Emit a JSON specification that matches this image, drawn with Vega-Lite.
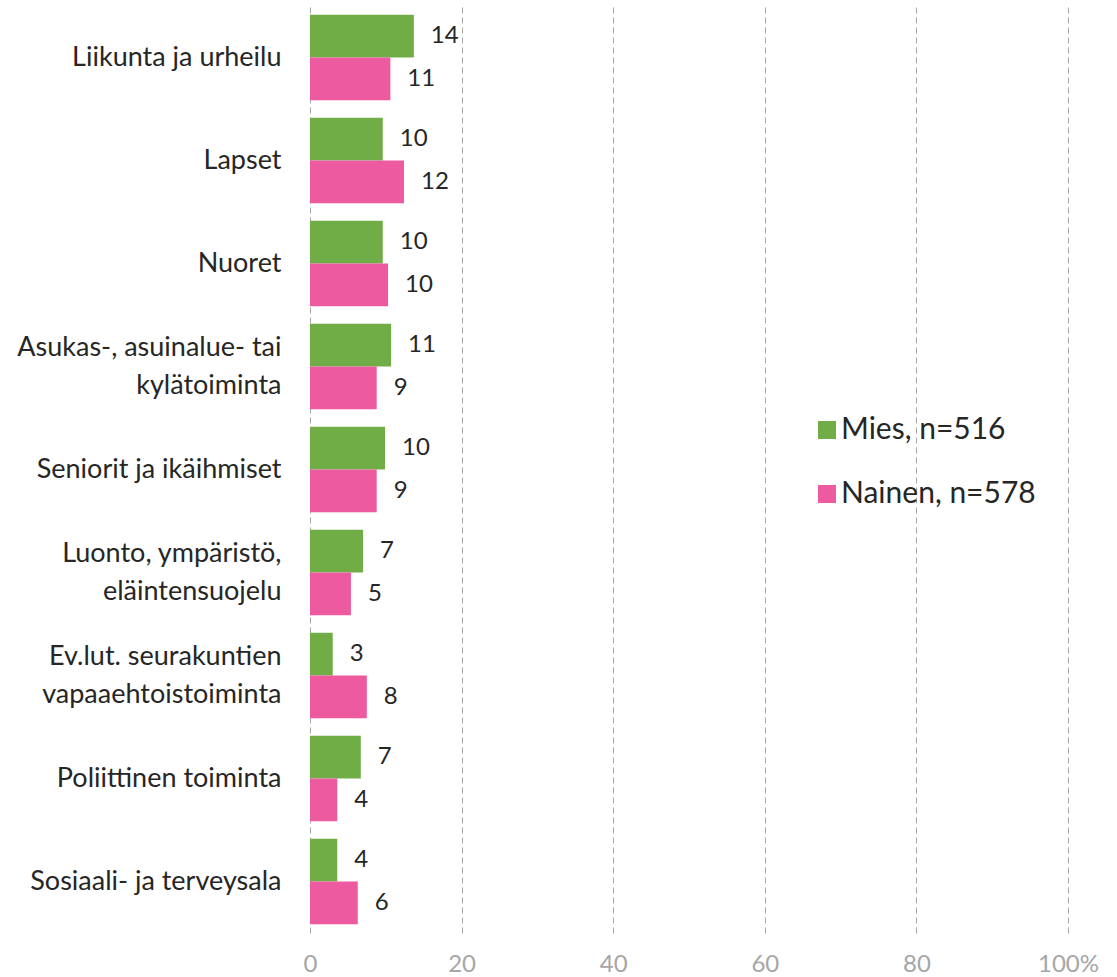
{
  "$schema": "https://vega.github.io/schema/vega-lite/v6.json",
  "autosize": "none",
  "width": 758,
  "height": 927,
  "padding": {"left": 310, "top": 6, "right": 49, "bottom": 44},
  "background": "white",
  "config": {"view": {"stroke": null}, "font": "Lato"},
  "data": {"values": [
    {"cat": "Liikunta ja urheilu", "sex": "Mies, n=516", "v": 13.7},
    {"cat": "Liikunta ja urheilu", "sex": "Nainen, n=578", "v": 10.6},
    {"cat": "Lapset", "sex": "Mies, n=516", "v": 9.6},
    {"cat": "Lapset", "sex": "Nainen, n=578", "v": 12.4},
    {"cat": "Nuoret", "sex": "Mies, n=516", "v": 9.6},
    {"cat": "Nuoret", "sex": "Nainen, n=578", "v": 10.3},
    {"cat": "Asukas-, asuinalue- tai|kylätoiminta", "sex": "Mies, n=516", "v": 10.7},
    {"cat": "Asukas-, asuinalue- tai|kylätoiminta", "sex": "Nainen, n=578", "v": 8.8},
    {"cat": "Seniorit ja ikäihmiset", "sex": "Mies, n=516", "v": 9.9},
    {"cat": "Seniorit ja ikäihmiset", "sex": "Nainen, n=578", "v": 8.8},
    {"cat": "Luonto, ympäristö,|eläintensuojelu", "sex": "Mies, n=516", "v": 7.0},
    {"cat": "Luonto, ympäristö,|eläintensuojelu", "sex": "Nainen, n=578", "v": 5.4},
    {"cat": "Ev.lut. seurakuntien|vapaaehtoistoiminta", "sex": "Mies, n=516", "v": 3.0},
    {"cat": "Ev.lut. seurakuntien|vapaaehtoistoiminta", "sex": "Nainen, n=578", "v": 7.5},
    {"cat": "Poliittinen toiminta", "sex": "Mies, n=516", "v": 6.7},
    {"cat": "Poliittinen toiminta", "sex": "Nainen, n=578", "v": 3.6},
    {"cat": "Sosiaali- ja terveysala", "sex": "Mies, n=516", "v": 3.6},
    {"cat": "Sosiaali- ja terveysala", "sex": "Nainen, n=578", "v": 6.3}
  ]},
  "encoding": {
    "y": {
      "field": "cat", "type": "nominal", "sort": null,
      "scale": {"paddingInner": 0.17, "paddingOuter": 0.085},
      "axis": {
        "title": null, "domain": false, "ticks": false,
        "labelExpr": "split(datum.label, '|')",
        "labelFontSize": 27, "labelColor": "#262626", "labelPadding": 29,
        "labelLineHeight": 38, "labelLimit": 320,
        "labelOffset": {"condition": {"test": "indexof(datum.label, '|') >= 0", "value": -19}, "value": 0}
      }
    },
    "yOffset": {"field": "sex", "type": "nominal", "sort": null, "scale": {"paddingInner": 0}},
    "x": {
      "field": "v", "type": "quantitative",
      "scale": {"domain": [0, 100], "nice": false},
      "axis": {
        "title": null, "values": [0, 20, 40, 60, 80, 100],
        "labelExpr": "datum.value == 100 ? '100%' : datum.label",
        "domain": false, "ticks": false, "labelFlush": false,
        "grid": true, "gridColor": "#A6A6A6", "gridDash": [6, 4], "gridWidth": 1,
        "labelFontSize": 24, "labelColor": "#A6A6A6", "labelPadding": 19
      }
    }
  },
  "layer": [
    {
      "mark": {"type": "bar"},
      "encoding": {
        "color": {
          "field": "sex", "type": "nominal", "sort": null,
          "scale": {"domain": ["Mies, n=516", "Nainen, n=578"], "range": ["#70AD47", "#EE5A9F"]},
          "legend": {
            "title": null, "orient": "none", "legendX": 502, "legendY": 409,
            "symbolType": "square", "symbolSize": 324, "symbolStrokeWidth": 0,
            "labelFontSize": 30, "labelColor": "#262626", "rowPadding": 34,
            "symbolOffset": 0, "labelOffset": -1, "labelLimit": 400
          }
        }
      }
    },
    {
      "mark": {"type": "text", "align": "left", "dx": 17, "fontSize": 24, "color": "#262626"},
      "encoding": {"text": {"field": "v", "type": "quantitative", "format": ".0f"}}
    }
  ]
}
